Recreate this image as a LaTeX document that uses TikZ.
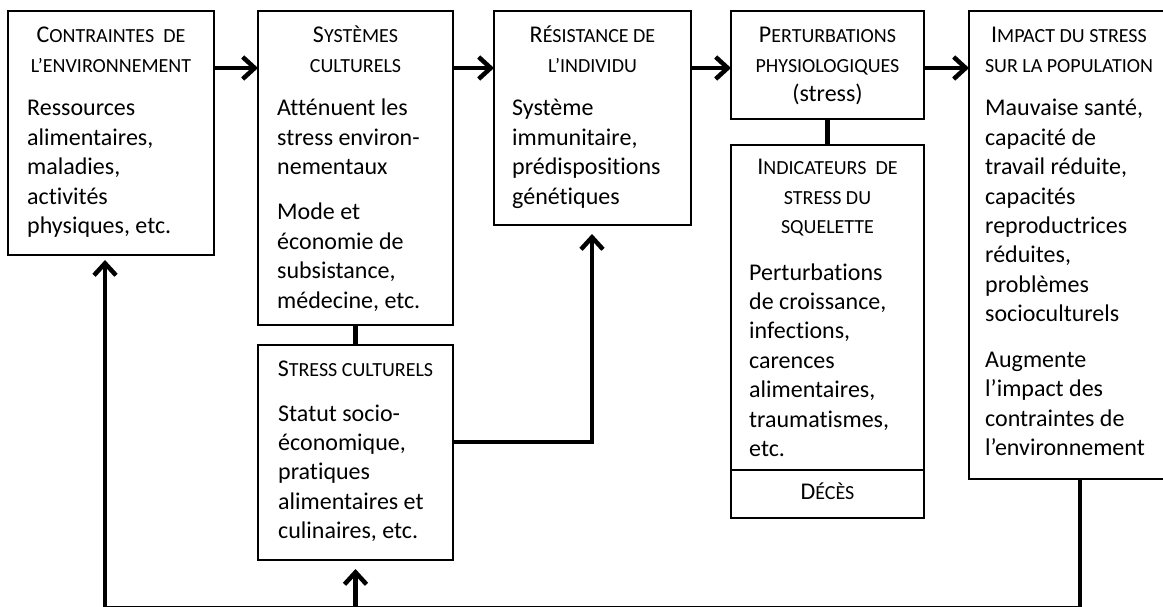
\documentclass[tikz,border=0pt]{standalone}
\usepackage{fontspec}
\setmainfont{Carlito}[Ligatures={NoCommon}]
\usetikzlibrary{arrows.meta}
\newcommand\bodyfont{\fontsize{24}{29.4}\selectfont}
\newcommand\smc[1]{{\fontsize{20}{29.4}\selectfont #1}}
\newcommand\lft[1]{\begin{tabular}[t]{@{}l@{}}#1\end{tabular}}
\newcommand\ctr[1]{\begin{tabular}[t]{@{}c@{}}#1\end{tabular}}
\begin{document}
\begin{tikzpicture}[x=1pt,y=-1pt,
 box/.style={draw, line width=1.5pt, anchor=north west, inner sep=0pt, outer sep=0pt},
 txt/.style={inner sep=0pt, anchor=base west, font=\bodyfont},
 hd/.style={inner sep=0pt, anchor=base, font=\bodyfont},
 conn/.style={line width=4.5pt},
 arr/.style={-{Straight Barb[length=12pt,width=22pt]}}
]
\useasboundingbox (0,0) rectangle (1163,607);
\clip (0,0) rectangle (1163,607);
\fill[white] (0,0) rectangle (1163,607);

% boxes
\node[box, minimum width=206pt, minimum height=244pt] (env) at (8,11) {};
\node[box, minimum width=195pt, minimum height=314pt] (cult) at (258,11) {};
\node[box, minimum width=197pt, minimum height=214pt] (res) at (494,11) {};
\node[box, minimum width=193pt, minimum height=108pt] (pert) at (731,11) {};
\node[box, minimum width=193pt, minimum height=373pt] (ind) at (731,145) {};
\node[box, minimum width=222pt, minimum height=468pt] (imp) at (969,11) {};
\node[box, minimum width=195pt, minimum height=215pt] (cst) at (258,345) {};
\coordinate (dv) at (0,470);
\draw[line width=1.5pt] (ind.west |- dv) -- (ind.east |- dv);

% texts
\node[hd] (envH) at (111,43) {\ctr{C\smc{ONTRAINTES\ \ DE}\\\smc{L’ENVIRONNEMENT}}};
\node[txt] (envB) at (27,116) {\lft{Ressources\\alimentaires,\\maladies,\\activités\\physiques, etc.}};

\node[hd] (cultH) at (355.5,43) {\ctr{S\smc{YSTÈMES}\\\smc{CULTURELS}}};
\node[txt] (cultB1) at (277,116) {\lft{Atténuent les\\stress environ-\\nementaux}};
\node[txt] (cultB2) at (277,220) {\lft{Mode et\\économie de\\subsistance,\\médecine, etc.}};

\node[hd] (resH) at (592.5,43) {\ctr{R\smc{ÉSISTANCE DE}\\\smc{L’INDIVIDU}}};
\node[txt] (resB) at (512,116) {\lft{Système\\immunitaire,\\prédispositions\\génétiques}};

\node[hd] (pertH) at (827.5,43) {\ctr{P\smc{ERTURBATIONS}\\\smc{PHYSIOLOGIQUES}\\(stress)}};

\node[hd] (indH) at (827.5,175) {\ctr{I\smc{NDICATEURS\ \ DE}\\\smc{STRESS DU}\\\smc{SQUELETTE}}};
\node[txt] (indB) at (749,280) {\lft{Perturbations\\de croissance,\\infections,\\carences\\alimentaires,\\traumatismes,\\etc.}};
\node[hd] (deces) at (827.5,499) {D\smc{ÉCÈS}};

\node[hd] (impH) at (1069,43) {\ctr{I\smc{MPACT DU STRESS}\\\smc{SUR LA POPULATION}}};
\node[txt] (impB1) at (985,116) {\lft{Mauvaise santé,\\capacité de\\travail réduite,\\capacités\\reproductrices\\réduites,\\problèmes\\socioculturels}};
\node[txt] (impB2) at (985,367.5) {\lft{Augmente\\l’impact des\\contraintes de\\l’environnement}};

\node[hd] (cstH) at (355.5,376) {S\smc{TRESS CULTURELS}};
\node[txt] (cstB) at (278,421) {\lft{Statut socio-\\économique,\\pratiques\\alimentaires et\\culinaires, etc.}};

% connectors
\coordinate (row) at (0,68);
\draw[conn, arr] (env.east |- row) -- (cult.west |- row);
\draw[conn, arr] (cult.east |- row) -- (res.west |- row);
\draw[conn, arr] (res.east |- row) -- (pert.west |- row);
\draw[conn, arr] (pert.east |- row) -- (imp.west |- row);
\draw[conn] (pert.south) -- (ind.north);
\draw[conn] (cult.south) -- (cst.north);

\coordinate (j1) at (592,442);
\draw[conn, arr, shorten >=9pt] (cst.east |- j1) -- (j1) -- (res.south -| j1);

\coordinate (fbY) at (0,608);
\coordinate (fbL) at (105,608);
\draw[conn, arr, shorten >=5pt] (imp.south) -- (imp.south |- fbY) -- (fbL) -- (env.south -| fbL);
\draw[conn, arr, shorten >=9pt] (cst.south |- fbY) -- (cst.south);
\end{tikzpicture}
\end{document}
